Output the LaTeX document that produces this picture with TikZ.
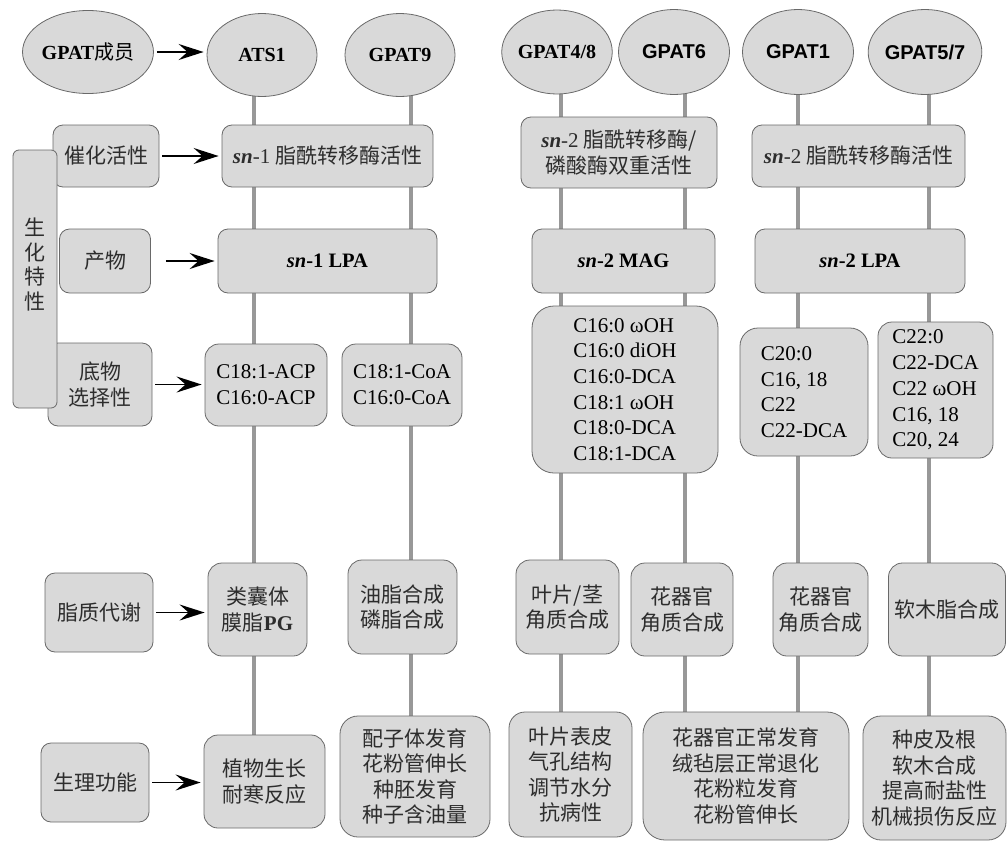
\documentclass[tikz,border=0pt]{standalone}
\usepackage{fontspec}
\setmainfont{Liberation Serif}
\newfontfamily\zh{Noto Sans CJK SC}
\newfontfamily\arialb{Liberation Sans}
\usetikzlibrary{shapes.geometric,arrows.meta,backgrounds}

\definecolor{boxfill}{RGB}{217,217,217}
\definecolor{boxline}{RGB}{105,105,105}
\definecolor{stemgray}{RGB}{152,152,152}
\definecolor{zhtext}{RGB}{45,45,45}

\newcommand\sn[1]{{\rmfamily\textbf{\textit{sn}}-#1}}
\newcommand\lat[1]{{\rmfamily #1}}

\tikzset{
  member/.style={ellipse, draw=boxline, fill=boxfill, line width=0.8pt, inner sep=0pt,
    font=\bfseries\fontsize{20}{24}\selectfont},
  cat/.style={draw=boxline, fill=boxfill, line width=0.8pt, rounded corners=10pt, inner sep=1pt,
    align=center, text=zhtext, font=\zh\fontsize{21}{25.5}\selectfont},
  latbox/.style={cat, text=black, font=\rmfamily\fontsize{21}{25.7}\selectfont},
  feed/.style={-{Stealth[length=25pt,width=16pt,inset=9pt]}, line width=1.8pt,
    shorten <=3pt, shorten >=3pt},
  stem/.style={draw=stemgray, line width=4pt}
}

\begin{document}
\begin{tikzpicture}[x=1pt, y=-1pt]
\useasboundingbox (0,0) rectangle (1007,841);

% GPAT members
\node[member, minimum width=123pt, minimum height=83pt] (mem) at (88,52) {GPAT{\zh\mdseries 成员}};
\node[member, minimum width=110pt, minimum height=83pt] (ats) at (262,55) {ATS1};
\node[member, minimum width=110pt, minimum height=83pt] (g9) at (400,55) {GPAT9};
\node[member, minimum width=109pt, minimum height=84pt] (g48) at (557,52) {GPAT4/8};
\node[member, minimum width=111pt, minimum height=85pt] (g6) at (674,52) {\arialb GPAT6};
\node[member, minimum width=111pt, minimum height=85pt] (g1) at (798,52) {\arialb GPAT1};
\node[member, minimum width=110pt, minimum height=85pt] (g57) at (925,52) {\arialb GPAT5/7};

% left column
\node[cat, minimum width=106pt, minimum height=62pt] (catA) at (106,156) {催化活性};
\node[cat, minimum width=91pt, minimum height=64pt] (catB) at (105,261) {产物};
\node[cat, minimum width=104pt, minimum height=83pt] (catC) at (100,384.5) {底物\\选择性};
\node[cat, minimum width=108pt, minimum height=79pt] (catD) at (99,612.5) {脂质代谢};
\node[cat, minimum width=108pt, minimum height=79pt] (catE) at (95,782.5) {生理功能};
\node[cat, rounded corners=6pt, minimum width=44pt, minimum height=258pt, text depth=31pt,
  font=\zh\fontsize{21}{24.5}\selectfont] (bio) at (35,279) {生\\化\\特\\性};

% activity
\node[cat, minimum width=211pt, minimum height=62pt] (actA) at (327.5,156) {\sn{1} 脂酰转移酶活性};
\node[cat, minimum width=196pt, minimum height=71pt] (actB) at (619,152.5) {\sn{2} 脂酰转移酶/\\磷酸酶双重活性};
\node[cat, minimum width=213pt, minimum height=62pt] (actC) at (858.5,156) {\sn{2} 脂酰转移酶活性};

% products
\node[latbox, font=\rmfamily\bfseries\fontsize{20.5}{24}\selectfont, minimum width=219pt, minimum height=64pt] (prodA) at (327.5,261) {\textit{sn}-1 LPA};
\node[latbox, font=\rmfamily\bfseries\fontsize{20.5}{24}\selectfont, minimum width=183pt, minimum height=64pt] (prodB) at (623.5,261) {\textit{sn}-2 MAG};
\node[latbox, font=\rmfamily\bfseries\fontsize{20.5}{24}\selectfont, minimum width=210pt, minimum height=64pt] (prodC) at (860,261) {\textit{sn}-2 LPA};

% substrates
\node[latbox, rounded corners=14pt, minimum width=122pt, minimum height=82pt] (subA) at (266,385) {C18:1-ACP\\C16:0-ACP};
\node[latbox, rounded corners=14pt, minimum width=120pt, minimum height=82pt] (subB) at (402,385) {C18:1-CoA\\C16:0-CoA};
\node[latbox, rounded corners=22pt, align=left, minimum width=186pt, minimum height=167pt] (subC) at (625,389.5)
  {C16:0 ωOH\\C16:0 diOH\\C16:0-DCA\\C18:1 ωOH\\C18:0-DCA\\C18:1-DCA};
\node[latbox, rounded corners=18pt, align=left, minimum width=128pt, minimum height=128pt] (subD) at (804,392)
  {C20:0\\C16, 18\\C22\\C22-DCA};
\node[latbox, rounded corners=14pt, align=left, minimum width=115pt, minimum height=136pt] (subE) at (935.5,390)
  {C22:0\\C22-DCA\\C22 ωOH\\C16, 18\\C20, 24};

% lipid metabolism
\node[cat, rounded corners=14pt, minimum width=99pt, minimum height=93pt] (lipA) at (257.5,609.5) {类囊体\\膜脂\lat{\textbf{PG}}};
\node[cat, rounded corners=14pt, minimum width=109pt, minimum height=94pt] (lipB) at (402.5,607) {油脂合成\\磷脂合成};
\node[cat, rounded corners=14pt, minimum width=103pt, minimum height=94pt] (lipC) at (567.5,607) {叶片/茎\\角质合成};
\node[cat, rounded corners=14pt, minimum width=102pt, minimum height=93pt] (lipD) at (682,609.5) {花器官\\角质合成};
\node[cat, rounded corners=14pt, minimum width=95pt, minimum height=93pt] (lipE) at (820.5,609.5) {花器官\\角质合成};
\node[cat, rounded corners=14pt, minimum width=117pt, minimum height=93pt] (lipF) at (947,609.5) {软木脂合成};

% physiology
\node[cat, rounded corners=14pt, minimum width=121pt, minimum height=93pt] (phyA) at (264.5,781.5) {植物生长\\耐寒反应};
\node[cat, rounded corners=18pt, minimum width=150pt, minimum height=121pt] (phyB) at (415,776.5) {配子体发育\\花粉管伸长\\种胚发育\\种子含油量};
\node[cat, rounded corners=16pt, minimum width=123pt, minimum height=125pt] (phyC) at (570.5,774.5) {叶片表皮\\气孔结构\\调节水分\\抗病性};
\node[cat, rounded corners=22pt, minimum width=206pt, minimum height=128pt] (phyD) at (746,776) {花器官正常发育\\绒毡层正常退化\\花粉粒发育\\花粉管伸长};
\node[cat, rounded corners=18pt, minimum width=143pt, minimum height=124pt] (phyE) at (934.5,778) {种皮及根\\软木合成\\提高耐盐性\\机械损伤反应};

% stems behind the boxes
\begin{scope}[on background layer]
\foreach \g/\b/\dx in {ats/phyA/-8, g9/phyB/11, g48/phyC/4, g6/phyD/11, g1/phyD/0, g57/phyE/4} {
  \coordinate (top) at ([xshift=\dx pt]\g.center);
  \draw[stem] (top) -- (top |- \b.center);
}
\end{scope}

% arrows
\draw[feed] (mem.east) -- (mem.east -| ats.west);
\draw[feed] (catA.east) -- (catA.east -| actA.west);
\draw[feed] (catB.east) ++(12,0) -- (catB.east -| prodA.west);
\draw[feed] (catC.east) -- (catC.east -| subA.west);
\draw[feed] (catD.east) -- (catD.east -| lipA.west);
\draw[feed] (catE.east) -- (catE.east -| phyA.west);
\end{tikzpicture}
\end{document}
